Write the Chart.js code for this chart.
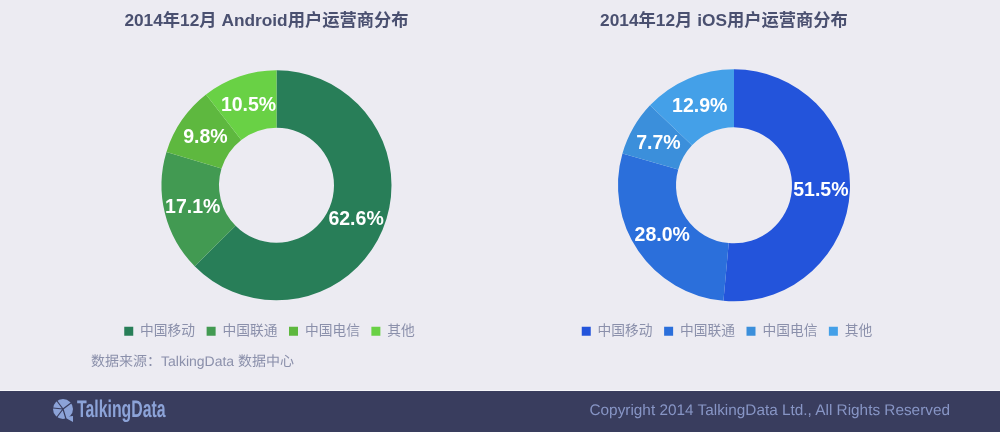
<!DOCTYPE html>
<html lang="zh"><head><meta charset="utf-8">
<script src="https://cdn.jsdelivr.net/npm/chart.js@4"></script>
<style>
html,body{margin:0;padding:0;width:1000px;height:432px;overflow:hidden;background:#ecebf2;font-family:"Liberation Sans","Noto Sans CJK SC",sans-serif;text-rendering:geometricPrecision}
.c{position:absolute;top:0;height:390px}
#a{left:47px;width:459px}
#b{left:505px;width:458px}
#src{position:absolute;left:91px;top:351px;font-size:14px;line-height:20px;color:#8b90ab;white-space:pre}
#src span{font-family:"Noto Sans CJK TC",sans-serif}
#foot{position:absolute;left:0;top:390px;width:1000px;height:42px;background:#393d5e;border-top:1px solid #f6f6fa;box-sizing:border-box}
#copy{position:absolute;right:50px;top:10px;font-size:15.35px;line-height:20px;color:#8795c5;white-space:pre}
#brand{position:absolute;left:77px;top:6px;font:bold 24px/26px "Liberation Sans",sans-serif;color:#8ca3d8;transform-origin:left center;transform:scaleX(.66);white-space:pre}
#logo{position:absolute;left:52px;top:8px}
</style></head><body>
<div class="c" id="a"><canvas id="ca"></canvas></div>
<div class="c" id="b"><canvas id="cb"></canvas></div>
<div id="src">数据来源<span>：</span>TalkingData 数据中心</div>
<div id="foot">
<svg id="logo" width="23" height="24" viewBox="0 0 23 24"><circle cx="11" cy="10" r="10" fill="#8ca3d8"/><path d="M12 18 L21 17 L21 23 Z" fill="#8ca3d8"/><path d="M11 10 L5 2 M11 10 L1 9 M11 10 L5 18 M11 10 L14 20 M11 10 L19 4" stroke="#393d5e" stroke-width="1.2"/></svg>
<div id="brand">TalkingData</div>
<div id="copy">Copyright 2014 TalkingData Ltd., All Rights Reserved</div>
</div>
<script>
const categories = ["中国移动","中国联通","中国电信","其他"];
const androidValues = [62.6,17.1,9.8,10.5];
const iosValues = [51.5,28.0,7.7,12.9];
const androidColors = ["#287e58","#429a52","#5eb83f","#69d145"];
const iosColors = ["#2354db","#2b6fdb","#3b8fdb","#44a0e8"];
const androidTitle = "2014年12月 Android用户运营商分布";
const iosTitle = "2014年12月 iOS用户运营商分布";
const FONT = '"Liberation Sans","Noto Sans CJK SC",sans-serif';

const pctLabels = {
  id:"pctLabels",
  afterLayout(chart){
    chart.titleBlock.left -= 10; chart.titleBlock.right -= 10;
    chart.legend.left -= 7; chart.legend.right -= 7;
  },
  afterDatasetsDraw(chart){
    const {ctx} = chart;
    const vals = chart.data.datasets[0].data;
    ctx.save();
    ctx.font = 'bold 19.5px '+FONT;
    ctx.fillStyle = '#fff';
    ctx.textAlign = 'center';
    ctx.textBaseline = 'middle';
    chart.getDatasetMeta(0).data.forEach((arc,i)=>{
      const p = arc.getCenterPoint();
      ctx.fillText(vals[i].toFixed(1)+'%', p.x, p.y + 1.5);
    });
    ctx.restore();
  }
};
function make(id,title,values,colors,radius){
  return new Chart(document.getElementById(id),{
    type:'doughnut',
    data:{labels:categories,datasets:[{data:values,backgroundColor:colors,borderWidth:0,hoverOffset:0}]},
    plugins:[pctLabels],
    options:{
      responsive:true,maintainAspectRatio:false,animation:false,
      cutout:'50%',radius:radius,
      layout:{padding:{top:0,bottom:42,left:0,right:0}},
      plugins:{
        title:{display:true,text:title,color:'#4a5070',font:{family:FONT,size:17.3,weight:'bold',lineHeight:1.2},padding:{top:11,bottom:26.2}},
        legend:{position:'bottom',labels:{font:{family:FONT,size:13.75},color:'#8b90ab',boxWidth:9,boxHeight:9,padding:11.5}},
        tooltip:{enabled:false}
      }
    }
  });
}
make('ca',androidTitle,androidValues,androidColors,115);
make('cb',iosTitle,iosValues,iosColors,116);
</script>
</body></html>
